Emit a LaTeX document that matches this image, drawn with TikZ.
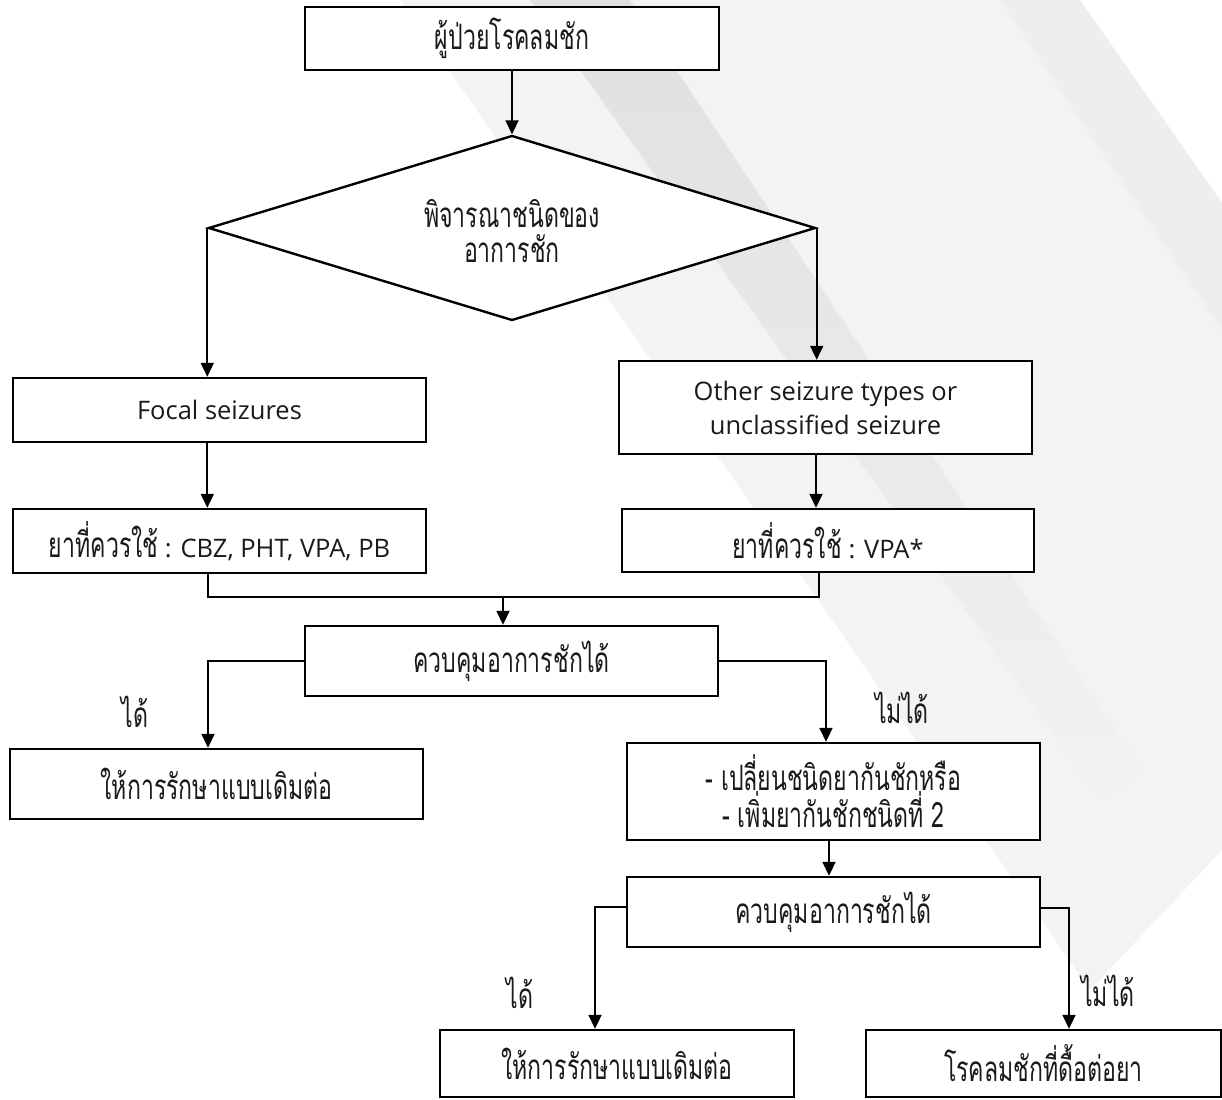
\documentclass[tikz,border=0pt]{standalone}
\usepackage{fontspec}
\setmainfont[Script=Thai,FakeStretch=0.66]{Loma}
\newfontfamily\enfont{Open Sans}
\newcommand\en[1]{{\fontsize{25.5}{34}\enfont #1}}
\usetikzlibrary{arrows.meta,shapes.geometric,calc}
\definecolor{bgA}{HTML}{F3F3F3}
\definecolor{bgC}{HTML}{EEEEEE}
\definecolor{bgDtop}{HTML}{E0E0E0}
\definecolor{bgDbot}{HTML}{F2F2F2}
\definecolor{ink}{HTML}{1A1A1A}
\begin{document}
\begin{tikzpicture}[x=1pt,y=-1pt,
  box/.style={draw=black,line width=2.4pt,fill=white,inner sep=0pt,align=center,text=ink,font=\fontsize{35}{34}\selectfont},
  lbl/.style={inner sep=0pt,text=ink,font=\fontsize{35}{34}\selectfont},
  arr/.style={line width=1.8pt,-{Triangle[length=14pt,width=13pt]}},
  ln/.style={line width=1.8pt}]
% canvas
\path[use as bounding box] (0,0) rectangle (1222,1099);
\fill[white] (0,0) rectangle (1222,1099);
% background stripes
\fill[bgA] (400,0) -- (1080,0) -- (1222,203) -- (1222,850) -- (1090,990) -- cycle;
\fill[bgC] (1000,0) -- (1080,0) -- (1222,203) -- (1222,330) -- cycle;
\shade[top color=bgDtop,bottom color=bgDbot] (530,0) -- (630,0) -- (1142,771) -- (1101,800) -- cycle;
% nodes
\node[box,minimum width=414pt,minimum height=63pt] (start) at (512,38.5) {ผู้ป่วยโรคลมชัก};
\node[box,diamond,minimum width=607pt,minimum height=185pt] (dec) at (512,228) {};
\node[lbl,align=center,font=\fontsize{35}{35}\selectfont] (dectext) at (512,231) {พิจารณาชนิดของ\\อาการชัก};
\node[box,minimum width=413pt,minimum height=64pt] (focal) at (219.5,410) {\en{Focal seizures}};
\node[box,minimum width=413pt,minimum height=93pt] (other) at (825.5,407.5) {\en{Other seizure types or}\\\en{unclassified seizure}};
\node[box,minimum width=413pt,minimum height=64pt] (drugL) at (219.5,541) {ยาที่ควรใช้\en{ : CBZ, PHT, VPA, PB}};
\node[box,minimum width=412pt,minimum height=63pt] (drugR) at (828,540.5) {ยาที่ควรใช้\en{ : VPA*}};
\node[box,minimum width=413pt,minimum height=70pt] (ctrl1) at (511.5,661) {ควบคุมอาการชักได้};
\node[box,minimum width=413pt,minimum height=70pt] (contL) at (216.5,784) {ให้การรักษาแบบเดิมต่อ};
\node[box,minimum width=413pt,minimum height=97pt,font=\fontsize{35}{37}\selectfont] (change) at (833.5,791.5) {- เปลี่ยนชนิดยากันชักหรือ\\- เพิ่มยากันชักชนิดที่ 2};
\node[box,minimum width=413pt,minimum height=70pt] (ctrl2) at (833.5,912) {ควบคุมอาการชักได้};
\node[box,minimum width=354pt,minimum height=67pt] (contL2) at (617,1063.5) {ให้การรักษาแบบเดิมต่อ};
\node[box,minimum width=355pt,minimum height=67pt] (resist) at (1043.5,1063.5) {โรคลมชักที่ดื้อต่อยา};
% labels
\node[lbl] (yes1) at (135,712) {ได้};
\node[lbl] (no1) at (902,708) {ไม่ได้};
\node[lbl] (yes2) at (520,993) {ได้};
\node[lbl] (no2) at (1108,991) {ไม่ได้};
% connectors
\coordinate (mL) at (208,597);
\coordinate (mR) at (819,597);
\coordinate (mC) at (503,597);
\draw[arr] (start.south) -- (dec.north);
\draw[arr] (dec.west) -- (dec.west |- focal.north);
\draw[arr] (dec.east) -- (dec.east |- other.north);
\draw[arr] (dec.west |- focal.south) -- (dec.west |- drugL.north);
\draw[arr] ([xshift=-9.5pt]other.south) -- ([xshift=-9.5pt]other.south |- drugR.north);
\draw[ln] (mL |- drugL.south) -- (mL) -- (mR) -- (mR |- drugR.south);
\draw[arr] (mC) -- (mC |- ctrl1.north);
\draw[arr] (ctrl1.west) -| (mL |- contL.north);
\draw[arr] (ctrl1.east) -| ([xshift=-7.5pt]change.north);
\draw[arr] ([xshift=-4.5pt]change.south) -- ([xshift=-4.5pt]ctrl2.north);
\draw[arr] ([yshift=5pt]ctrl2.west) -| ([xshift=-22pt]contL2.north);
\draw[arr] ([yshift=4pt]ctrl2.east) -| ([xshift=25.5pt]resist.north);
\end{tikzpicture}
\end{document}
